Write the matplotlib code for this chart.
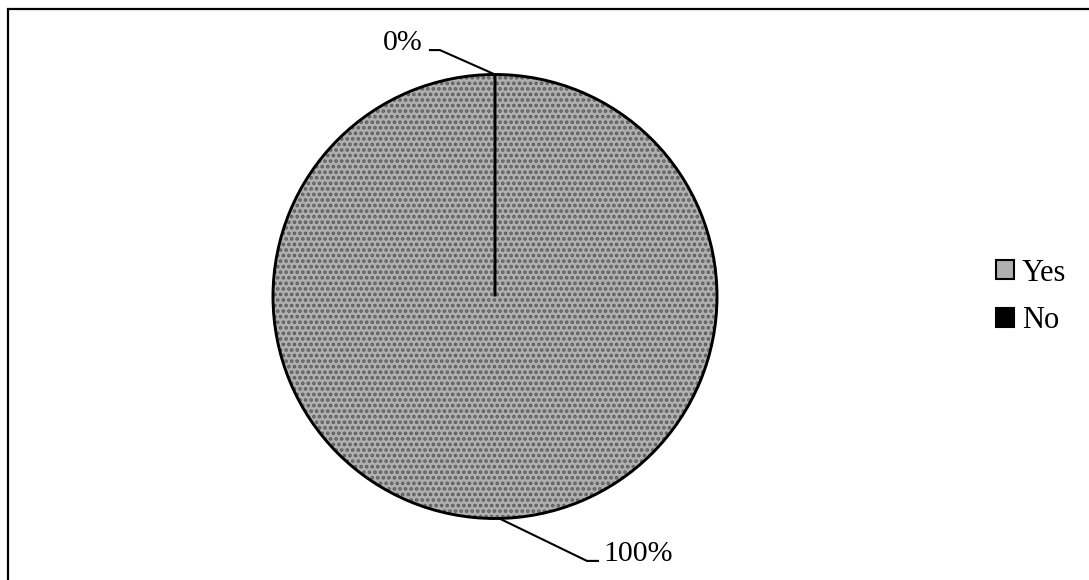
import numpy as np
import matplotlib
matplotlib.use("Agg")
import matplotlib.pyplot as plt
from matplotlib.patches import Patch, Rectangle

plt.rcParams["font.family"] = ["Liberation Serif", "DejaVu Serif"]
plt.rcParams["hatch.linewidth"] = 1.8

# data
labels = ["Yes", "No"]
values = [100, 0]
pct_labels = ["100%", "0%"]
colors = ["#b0b0b0", "black"]

W, H = 1089, 580
fig = plt.figure(figsize=(W / 100, H / 100), dpi=100)

# pie geometry in pixels: centre and radius
cx, cy, r = 495, 296.5, 222
ax = fig.add_axes([0, 0, 1, 1])

wedges, _ = ax.pie(values, colors=colors, startangle=90, counterclock=False,
                   wedgeprops=dict(linewidth=0, edgecolor="#5c5c5c"))
wedges[0].set_hatch("...")
# outline layer
ax.pie(values, colors=["none", "none"], startangle=90, counterclock=False,
       wedgeprops=dict(linewidth=2.1, edgecolor="black", fill=False))

ax.set_xlim(-cx / r, (W - cx) / r)
ax.set_ylim(-(H - cy) / r, cy / r)
ax.set_aspect("equal", adjustable="box")
ax.axis("off")

# leader-line labels (anchor at each wedge's mid angle)
def mid_point(w):
    ang = np.deg2rad((w.theta1 + w.theta2) / 2)
    return np.cos(ang), np.sin(ang)

# 0% (No) label up-left, 100% (Yes) label down-right
x0, y0 = mid_point(wedges[1])
ax.plot([x0, -0.248, -0.293], [y0, 1.110, 1.110], color="black", lw=1.5)
ax.text(-0.325, 1.110, pct_labels[1], ha="right", va="baseline", fontsize=21.5)

x1, y1 = mid_point(wedges[0])
ax.plot([x1 + 0.02, 0.414, 0.464], [y1, -1.191, -1.191], color="black", lw=1.5)
ax.text(0.49, -1.191, pct_labels[0], ha="left", va="baseline", fontsize=21.5)

handles = [Patch(facecolor=colors[0], edgecolor="black", linewidth=1.5),
           Patch(facecolor=colors[1], edgecolor="black", linewidth=1.5)]
fig.legend(handles, labels, loc="center left", bbox_to_anchor=(996 / W, 1 - 297 / H),
           frameon=False, fontsize=22, handlelength=0.6, handleheight=0.6,
           handletextpad=0.25, labelspacing=0.62, borderpad=0, borderaxespad=0)

# chart frame (right/bottom edges run off the image)
fig.patches.append(Rectangle((7.5 / W, -0.1), 1.2, 1 - 8.5 / H + 0.1,
                             transform=fig.transFigure, fill=False,
                             edgecolor="black", linewidth=1.6))

fig.savefig("out.png", dpi=100)
